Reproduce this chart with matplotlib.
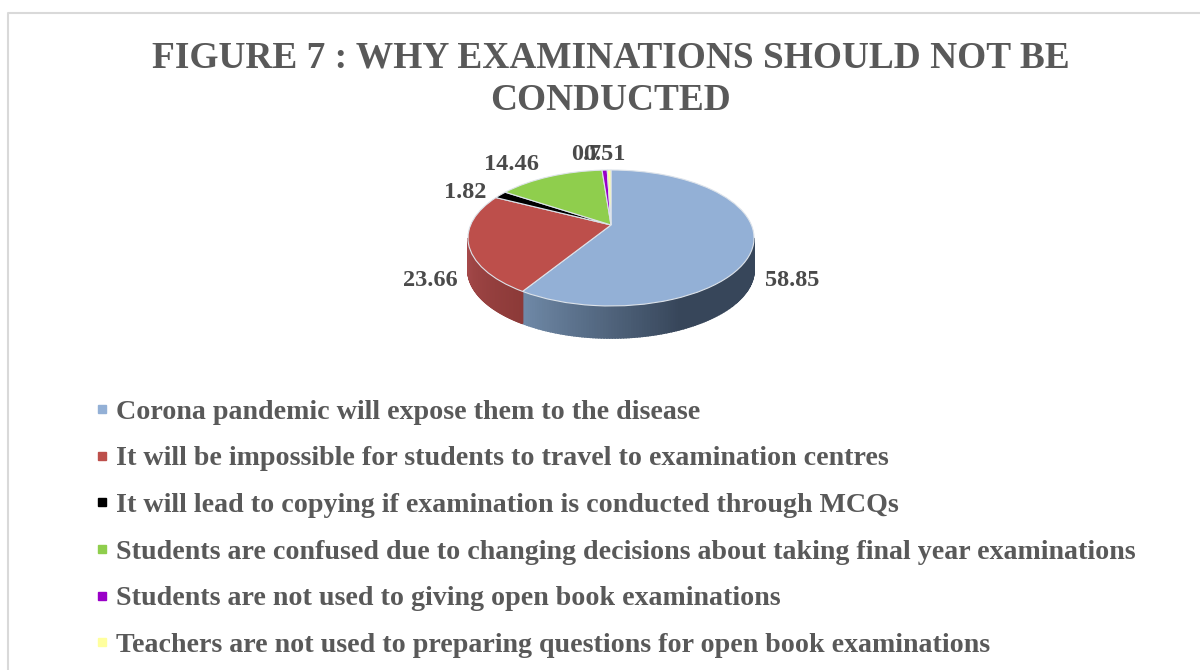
import numpy as np
import matplotlib
matplotlib.use('Agg')
import matplotlib.pyplot as plt
from matplotlib.lines import Line2D
from matplotlib.transforms import Transform

categories = ['Corona pandemic will expose them to the disease',
              'It will be impossible for students to travel to examination centres',
              'It will lead to copying if examination is conducted through MCQs',
              'Students are confused due to changing decisions about taking final year examinations',
              'Students are not used to giving open book examinations',
              'Teachers are not used to preparing questions for open book examinations']
values = [58.85, 23.66, 1.82, 14.46, 0.7, 0.51]
value_labels = ['58.85', '23.66', '1.82', '14.46', '0.7', '0.51']
colors = ['#93b0d6', '#bd4f4b', '#000000', '#8fce4d', '#9a00c8', '#ffff9e']
label_pos = [(792, 280), (430, 280), (465, 193), (511, 164), (586, 154), (604, 154)]
title = 'FIGURE 7 : WHY EXAMINATIONS SHOULD NOT BE\nCONDUCTED'

plt.rcParams['font.family'] = ['Liberation Serif', 'DejaVu Serif']

# tilted disc: the apex of the slices sits above the middle of the ellipse
CX, CY = 611, 225
A, B, K = 140.4, 65.5, 0.191
DEPTH = 32


def project(u, v):
    w = 1 + K * v
    return CX + A * u / w, CY - B * v / w


class Tilt(Transform):
    input_dims = output_dims = 2

    def transform_non_affine(self, xy):
        x, y = project(xy[:, 0], xy[:, 1])
        return np.column_stack([x, y])


fig = plt.figure(figsize=(12, 6.7), dpi=100)
ax = fig.add_axes([0, 0, 1, 1])

# side wall, shaded in thin strips
ends = 90 - np.cumsum(values) / np.sum(values) * 360
wall_split = ends[0]


def wall(t0, t1, c0, c1, fade=1.0):
    steps = np.linspace(t0, t1, 121)
    c0, c1 = np.array(matplotlib.colors.to_rgb(c0)), np.array(matplotlib.colors.to_rgb(c1))
    for i in range(len(steps) - 1):
        t = np.radians(steps[i:i + 2])
        x, y = project(np.cos(t), np.sin(t))
        f = min(i / 120 / fade, 1)
        c = c0 + (c1 - c0) * f
        ax.fill([x[0], x[1], x[1], x[0]], [y[0], y[1], y[1] + DEPTH, y[0] + DEPTH],
                color=c, lw=1.2, zorder=1)


wall(wall_split, -11, '#708aa8', '#37465a', 0.5)
wall(wall_split, -169, '#8c3a38', '#a5494a', 1.0)

wedges, _ = ax.pie(values, colors=colors, startangle=90, counterclock=False,
                   wedgeprops={'edgecolor': '#dde3ea', 'linewidth': 0.8})
tilt = Tilt()
for w in wedges:
    w.set_transform(tilt + ax.transData)
    w.set_clip_on(False)
    w.set_zorder(2)

ax.set_aspect('auto')
ax.set_xlim(0, 1200)
ax.set_ylim(670, 0)
ax.axis('off')

for txt, (x, y) in zip(value_labels, label_pos):
    ax.text(x, y, txt, ha='center', va='center', fontsize=17.5, fontweight='bold',
            color='#404040', alpha=0.95, zorder=3)

ax.text(611, 79.5, title, ha='center', va='center', fontsize=26.9, fontweight='bold',
        color='#595959', linespacing=1.26)

handles = [Line2D([], [], ls='none', marker='s', ms=5.5, color=c) for c in colors]
ax.legend(handles, categories, loc='upper left', bbox_to_anchor=(96.4, 399),
          bbox_transform=ax.transData, frameon=False, labelspacing=0.75,
          handlelength=0.4, handletextpad=0.3, borderpad=0, borderaxespad=0,
          prop={'size': 20.2, 'weight': 'bold'}, labelcolor='#595959')

# chart frame, running off the page at the right and the bottom
ax.plot([8, 8, 1200], [670, 13, 13], color='#d9d9d9', lw=1.5, clip_on=False)

fig.savefig('out.png', dpi=100)
